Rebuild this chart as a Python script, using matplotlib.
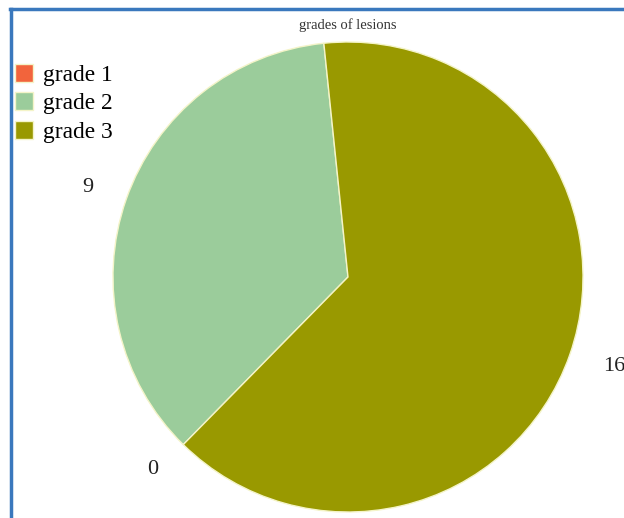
import matplotlib
matplotlib.use("Agg")
import matplotlib.pyplot as plt
from matplotlib.lines import Line2D

categories = ["grade 1", "grade 2", "grade 3"]
counts = [0, 9, 16]
colors = ["#f2643c", "#9bcc9b", "#999900"]
title = "grades of lesions"

W, H = 624, 518
plt.rcParams["font.family"] = ["Liberation Serif", "DejaVu Serif"]

fig = plt.figure(figsize=(W / 100, H / 100), dpi=100)

# pie axes: circle centred at (348, 277) px with radius 235 px
cx, cy, r = 348, 277, 235
ax = fig.add_axes([(cx - r) / W, (H - cy - r) / H, 2 * r / W, 2 * r / H])
wedges, texts = ax.pie(
    counts,
    colors=colors,
    labels=[str(v) for v in counts],
    startangle=225.5,
    counterclock=False,
    labeldistance=1.15,
    radius=1.0,
    wedgeprops=dict(edgecolor="#f4f4c8", linewidth=1.0),
    textprops=dict(fontsize=16, color="#222222"),
)
ax.set_xlim(-1, 1)
ax.set_ylim(-1, 1)
ax.set_aspect("auto")
ax.axis("off")

fig.text(cx / W, 1 - 25 / H, title, ha="center", va="center",
         fontsize=10.5, color="#333333")

fig.legend(
    wedges, categories,
    loc="upper left",
    bbox_to_anchor=(10 / W, 1 - 59 / H),
    frameon=False,
    fontsize=16.8,
    handlelength=0.8,
    handleheight=0.8,
    handletextpad=0.4,
    labelspacing=0.28,
    borderaxespad=0,
    borderpad=0.2,
)

# blue frame along the top and left edges
fig.add_artist(Line2D([10 / W, 1], [1 - 9 / H, 1 - 9 / H],
                      transform=fig.transFigure, color="#3a78bd", linewidth=2.5))
fig.add_artist(Line2D([11 / W, 11 / W], [0, 1 - 9 / H],
                      transform=fig.transFigure, color="#3a78bd", linewidth=2.5))

fig.savefig("out.png", dpi=100, facecolor="white")
